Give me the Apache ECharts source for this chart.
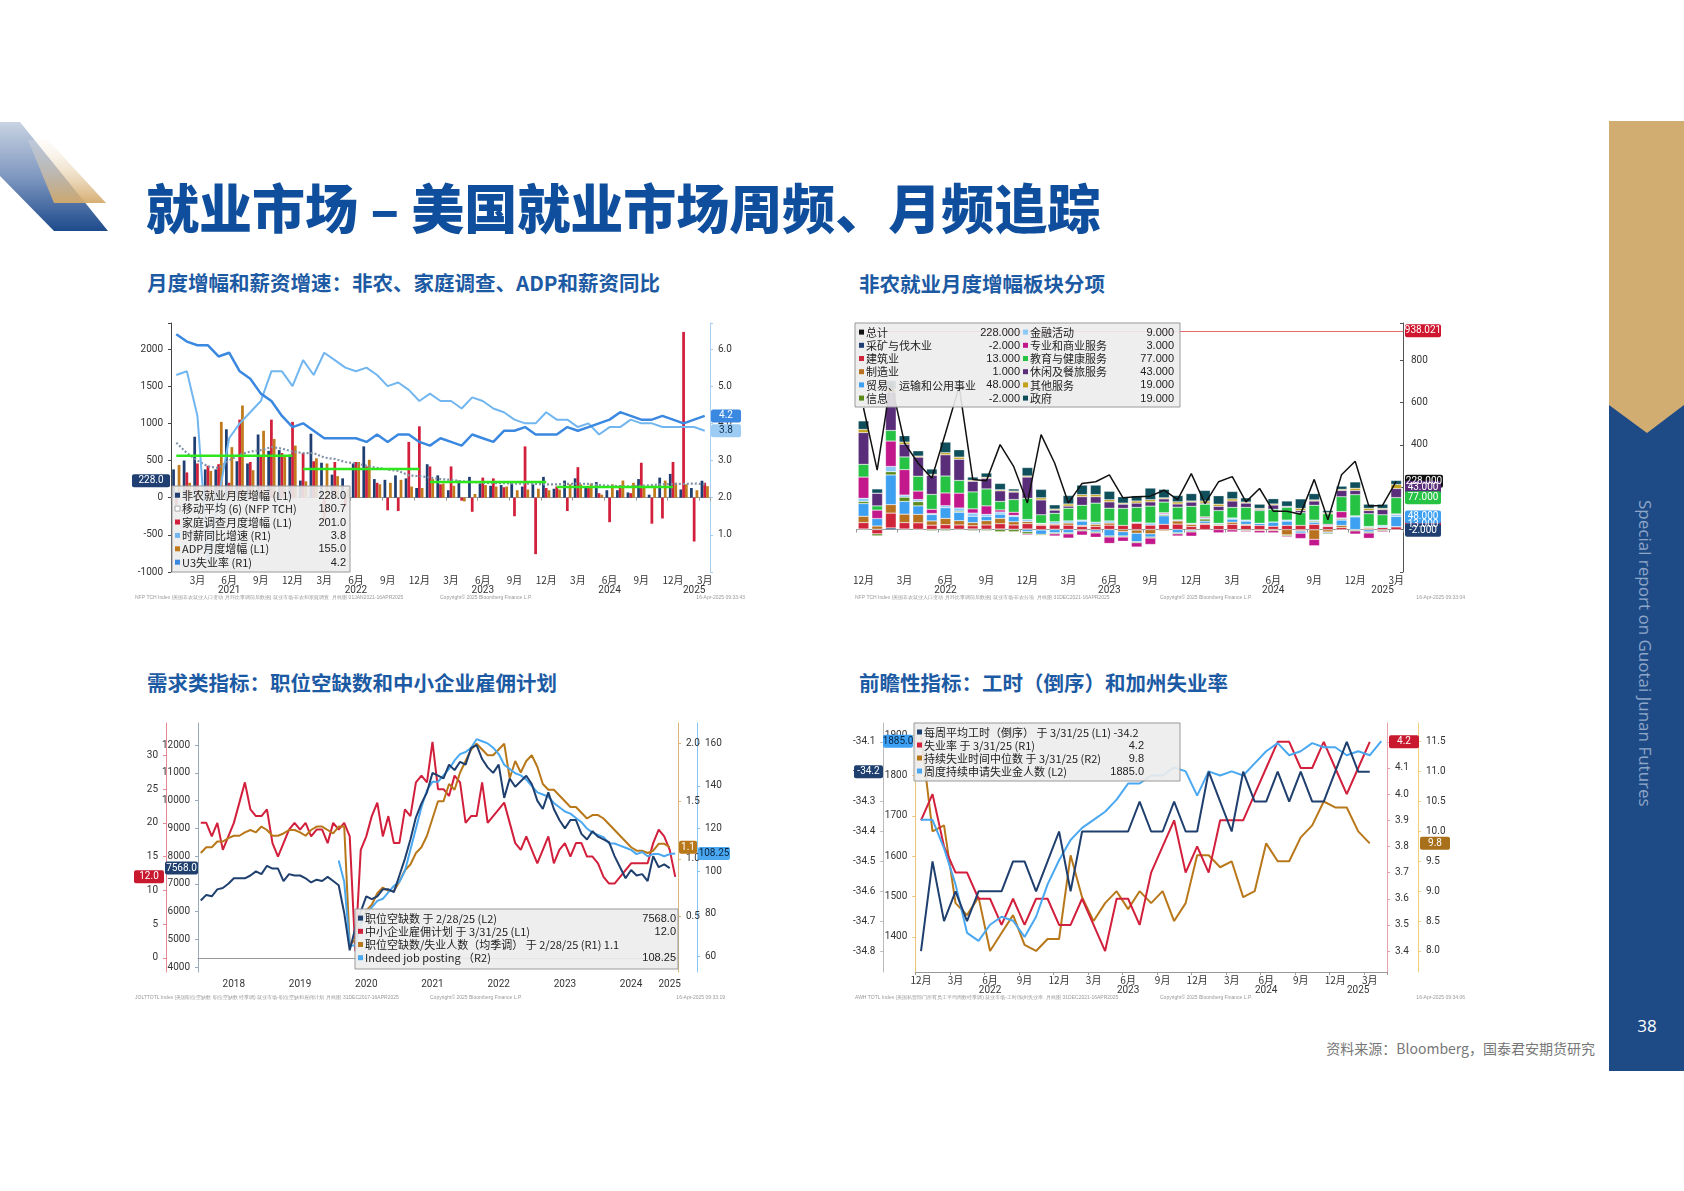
<!DOCTYPE html>
<html><head><meta charset="utf-8">
<script src="https://cdn.jsdelivr.net/npm/echarts@6/dist/echarts.min.js"></script>
<style>
body{margin:0;width:1684px;height:1191px;position:relative;background:#fff;font-family:"Noto Sans CJK SC",sans-serif;overflow:hidden}
.c{position:absolute}
.sub{position:absolute;font-size:20.5px;font-weight:bold;color:#1c5aa3;white-space:nowrap}
</style></head><body>
<svg style="position:absolute;left:0;top:0" width="220" height="260">
<defs>
<linearGradient id="gb" x1="0" y1="0" x2="0" y2="1"><stop offset="0" stop-color="#c9d3e2"/><stop offset="0.5" stop-color="#7f98c0"/><stop offset="1" stop-color="#1e4a8c"/></linearGradient>
<linearGradient id="gg" x1="0" y1="0" x2="0" y2="1"><stop offset="0" stop-color="#f7efe2" stop-opacity="0.2"/><stop offset="1" stop-color="#d4aa6a"/></linearGradient>
</defs>
<polygon points="0,122 20,122 108,231 54,231 0,176" fill="url(#gb)"/>
<polygon points="28,140 48,140 106,203 54,203" fill="url(#gg)" opacity="0.95"/>
</svg>
<div style="position:absolute;left:146px;top:168px;font-size:53px;font-weight:900;color:#0e4e9c;white-space:nowrap">就业市场 – 美国就业市场周频、月频追踪</div>
<div class="sub" style="left:147px;top:267px">月度增幅和薪资增速：非农、家庭调查、ADP和薪资同比</div>
<div class="sub" style="left:859px;top:268px">非农就业月度增幅板块分项</div>
<div class="sub" style="left:147px;top:667px">需求类指标：职位空缺数和中小企业雇佣计划</div>
<div class="sub" style="left:859px;top:667px">前瞻性指标：工时（倒序）和加州失业率</div>
<svg style="position:absolute;left:1609px;top:121px" width="75" height="950">
<polygon points="0,0 75,0 75,950 0,950" fill="#1e4a85"/>
<polygon points="0,0 75,0 75,284 38,312 0,284" fill="#d2ad72"/>
</svg>
<div style="position:absolute;left:1634px;top:500px;writing-mode:vertical-rl;font-size:17px;color:#8ea6c8;font-family:'Open Sans',sans-serif;white-space:nowrap">Special report on Guotai Junan Futures</div>
<div style="position:absolute;left:1630px;top:1014px;width:34px;text-align:center;font-size:17px;color:#fff;font-family:'Open Sans'">38</div>
<div style="position:absolute;right:89px;top:1038px;font-size:14px;color:#777">资料来源：Bloomberg，国泰君安期货研究</div>

<div id="c1" class="c" style="left:130px;top:310px;width:620px;height:300px"></div>
<div id="c2" class="c" style="left:850px;top:310px;width:620px;height:300px"></div>
<div id="c3" class="c" style="left:130px;top:710px;width:600px;height:300px"></div>
<div id="c4" class="c" style="left:850px;top:710px;width:620px;height:300px"></div>
<script>
// ---------- chart 1 data (Jan 2021 - Mar 2025) ----------
const c1Start=[2021,1], c1Len=51;
const nfp=[380,500,820,380,380,920,490,460,850,630,640,580, 230,860,470,310,260,460,690,250,240,300,260,130, 450,300,100,230,280,190,160,170,200,150,180,280, 120,230,260,130,210,100,100,70,250,40,270,320, 110,130,228];
const household=[-100,340,460,430,450,200,1050,480,550,1050,600,1020, 600,490,-300,480,-120,480,420,200,-170,-180,750,960, 420,180,420,-40,-190,270,260,140,-250,690,-760,130, 150,-180,410,150,60,-330,170,60,470,-350,-280,480, 2230,-590,201];
const adp=[440,200,120,360,1020,680,1240,370,900,790,560,700, 220,530,460,290,120,480,510,180,200,240,150,130, 250,190,160,-50,50,170,150,150,100,110,120,100, 110,180,180,190,40,180,230,200,140,160,230,200, 180,100,155];
const ma6=[740,600,500,420,400,500,580,620,640,680,660,620, 600,600,540,520,480,460,430,400,380,360,300,290, 270,250,240,220,210,200,195,195,190,190,185,180, 180,185,190,185,170,160,155,150,160,170,180,185, 185,190,181];
const wageYoY=[5.3,5.4,4.2,0.3,2.0,3.6,4.0,4.3,4.6,5.4,5.4,5.0, 5.7,5.3,5.9,5.7,5.5,5.4,5.5,5.3,5.0,5.1,4.9,4.6, 4.8,4.6,4.6,4.4,4.7,4.6,4.4,4.3,4.1,4.0,4.0,4.3, 4.1,4.1,3.9,4.0,3.7,3.9,3.9,4.1,4.0,4.0,3.9,3.9, 3.9,3.9,3.8];
const u3=[6.4,6.2,6.1,6.1,5.8,5.9,5.4,5.2,4.8,4.6,4.2,3.9, 4.0,3.8,3.6,3.6,3.6,3.6,3.5,3.7,3.5,3.7,3.7,3.5, 3.4,3.6,3.5,3.4,3.7,3.6,3.5,3.8,3.8,3.9,3.7,3.7, 3.7,3.9,3.8,3.9,4.0,4.1,4.3,4.2,4.1,4.1,4.2,4.1, 4.0,4.1,4.2];
const yearAvgYears=[2021,2022,2023,2024], yearAvg=[565,385,210,145];

// ---------- chart 2 data (Dec 2021 - Mar 2025) ----------
const c2Start=[2021,12], c2Len=40;
const total=[574,281,700,408,313,242,455,676,237,231,401,297,126,448,313,126,218,226,258,150,155,158,186,142,264,123,226,250,131,194,87,87,73,237,47,259,323,111,114,228];
const mining=[3,2,8,3,2,1,3,2,3,2,3,2,3,-2,2,1,-1,-1,1,0,-2,1,-1,1,-1,0,0,-1,0,0,1,0,-2,-1,-1,0,-1,-1,-1,-2];
const construction=[30,-20,70,30,30,20,20,20,15,20,25,20,25,20,20,20,15,15,20,20,30,20,25,25,15,25,20,25,20,20,15,20,20,25,15,10,0,5,10,13];
const manufacturing=[30,15,40,40,40,20,30,20,15,20,25,15,10,5,5,10,5,10,10,-10,-15,-20,-5,15,10,5,0,10,5,-5,-5,-25,-5,-45,-10,10,0,5,0,1];
const trade=[60,35,140,60,40,30,50,40,30,20,20,25,-10,-20,-15,-15,20,-10,-30,-20,-40,-15,40,-15,-5,10,0,15,15,10,20,20,-10,10,-5,25,60,-10,5,48];
const info=[10,-10,15,20,20,-5,-5,5,-5,-5,-10,-10,-10,-5,-5,-5,-5,-5,-5,-5,-5,-5,5,-5,-5,10,5,0,-5,0,0,-5,0,5,-5,5,-5,-5,-5,-2];
const finance=[15,0,25,10,10,5,10,15,15,10,10,5,10,5,10,10,5,10,10,0,5,10,5,5,5,5,5,5,5,0,0,5,0,5,5,5,5,5,5,9];
const profBiz=[100,40,120,120,40,20,60,70,20,40,10,15,-5,0,-10,-20,-20,-20,-30,-20,-20,-30,5,-10,-20,5,-15,-10,-5,-10,-10,-5,-25,-30,5,30,-15,-25,-5,3];
const eduHealth=[60,20,50,60,70,70,80,60,80,80,40,60,100,40,40,60,70,90,60,80,70,80,50,60,80,60,60,50,60,60,60,60,60,70,50,70,100,60,50,77];
const leisure=[150,60,180,60,90,90,100,100,50,50,50,35,100,70,15,10,40,30,30,20,20,20,15,15,20,5,20,30,20,5,20,5,10,20,0,30,20,15,25,43];
const otherSvc=[15,0,15,10,5,5,10,10,5,5,5,5,5,10,5,10,10,10,10,5,10,10,5,10,5,10,10,10,5,5,5,0,10,5,5,5,10,10,5,19];
const government=[40,20,40,30,25,25,50,35,15,20,30,10,40,40,20,40,45,45,40,30,25,55,40,30,35,50,40,35,20,20,25,25,45,30,10,15,30,20,20,19];
const peakLine=938.021;

// ---------- chart 3 data (Jan 2018 - Mar 2025) ----------
const c3Start=[2018,1], c3Len=87;
const jobOpenings=[6400,6600,6550,6800,6850,7000,7200,7200,7200,7300,7450,7350, 7650,7550,7550,7100,7350,7300,7300,7200,7050,7150,7100,7250, 7100,6950,5950,4600,5400,6000,6550,6450,6550,6800,6800,6700, 7300,7900,8600,9400,9900,10300,11000,10900,10800,11300,11100,11400, 11300,11900,12000,11500,11200,11000,11300,10100,10800,10500,10700,10900, 10600,10000,9700,10300,9700,9300,9000,9300,9300,8800,8600,8900, 8700,8600,8500,8000,7600,7200,7500,7300,7350,7100,8000,7600, 7700,7568,null];
const smeHiring=[20,20,18,20,16,18,20,23,26,22,21,21, 22,17,15,17,19,20,19,20,18,19,19,17, 20,19,20,18,1,16,18,21,23,18,21,17, 17,22,21,26,27,26,32,25,25,24,27,26, 20,21,21,26,20,21,22,23,20,17,16,18, 16,14,16,18,14,16,17,15,17,17,15,15, 14,12,11,11,12,13,14,14,14,14,17,19, 18,16,12];
const vuRatio=[1.05,1.1,1.1,1.15,1.15,1.18,1.2,1.2,1.23,1.25,1.23,1.28, 1.25,1.2,1.2,1.22,1.25,1.25,1.23,1.2,1.25,1.28,1.28,1.25, 1.22,1.28,1.28,0.25,0.3,0.45,0.55,0.6,0.7,0.75,0.72,0.72, 0.8,0.9,0.95,1.05,1.1,1.2,1.35,1.5,1.5,1.65,1.6,1.75, 1.85,1.95,2.0,1.95,1.9,1.9,1.95,2.0,1.7,1.85,1.75,1.85, 1.9,1.8,1.65,1.6,1.6,1.55,1.5,1.45,1.45,1.4,1.35,1.38, 1.38,1.35,1.3,1.25,1.2,1.15,1.1,1.07,1.07,1.05,1.07,1.13, 1.13,1.1,null];
const indeed=[null,null,null,null,null,null,null,null,null,null,null,null, null,null,null,null,null,null,null,null,null,null,null,null, null,105,95,65,65,75,80,83,86,87,90,93, 95,100,110,120,130,138,142,142,145,148,152,155, 156,158,162,161,160,158,155,150,148,146,145,143, 140,137,136,135,132,130,128,127,125,123,120,118, 117,116,113,113,112,111,110,108,109,107,108,108, 107,108,108.25];

// ---------- chart 4 data (Dec 2021 - Apr 2025) ----------
const c4Start=[2021,12], c4Len=41;
const weeklyHours=[-34.8, -34.5,-34.7,-34.6,-34.7,-34.6,-34.6,-34.6,-34.5,-34.5,-34.6,-34.5,-34.4, -34.6,-34.4,-34.4,-34.4,-34.4,-34.4,-34.3,-34.4,-34.4,-34.3,-34.4,-34.4, -34.2,-34.3,-34.4,-34.2,-34.3,-34.3,-34.2,-34.3,-34.2,-34.3,-34.3,-34.2, -34.1,-34.2,-34.2,null];
const unemp=[3.9, 4.0,3.8,3.7,3.7,3.6,3.6,3.5,3.6,3.5,3.6,3.6,3.5, 3.5,3.6,3.5,3.4,3.6,3.6,3.5,3.7,3.8,3.9,3.7,3.8, 3.7,3.9,3.9,3.9,4.0,4.1,4.2,4.2,4.1,4.1,4.2,4.1, 4.0,4.1,4.2,null];
const duration=[11.6, 10.0,10.1,8.8,8.6,8.9,8.0,8.3,8.6,8.1,8.0,8.2,8.2, 9.6,8.9,8.5,8.8,9.0,8.7,9.0,8.8,9.0,8.5,8.8,9.6, 9.6,9.4,9.5,8.9,9.0,9.8,9.5,9.5,9.9,10.1,10.5,10.4, 10.4,10.0,9.8,null];
const claims=[1690, 1690,1620,1530,1410,1390,1430,1450,1440,1400,1450,1530,1590, 1640,1670,1690,1710,1740,1780,1780,1800,1800,1820,1810,1750, 1810,1800,1810,1800,1830,1860,1880,1850,1860,1880,1870,1870, 1850,1860,1850,1885];

// ---------- helpers ----------
function months(start,n){const a=[];let y=start[0],m=start[1];for(let i=0;i<n;i++){a.push(y+'-'+String(m).padStart(2,'0'));m++;if(m>12){m=1;y++;}}return a;}
const F='"Noto Sans CJK SC", sans-serif';
const mon=v=>+v.slice(5);
function xAxes(cats,yearLabels,showMonths){
  return [
   {type:'category',data:cats,boundaryGap:true,axisLine:{lineStyle:{color:'#999'}},
    axisTick:{show:showMonths,interval:(i,v)=>[3,6,9,12].includes(mon(v)),length:3,lineStyle:{color:'#999'}},
    axisLabel:{show:showMonths,interval:(i,v)=>[3,6,9,12].includes(mon(v)),formatter:v=>mon(v)+'月',fontSize:10,color:'#333',margin:3,fontFamily:F}},
   {type:'category',data:cats,boundaryGap:true,position:'bottom',axisLine:{show:false},
    axisTick:{interval:(i,v)=>mon(v)===1&&i>0,length:showMonths?24:20,lineStyle:{color:'#bbb'}},
    axisLabel:{interval:(i,v)=>yearLabels.includes(v),formatter:v=>v.slice(0,4),fontSize:10,color:'#333',margin:showMonths?13:7,fontFamily:'Roboto'}}
  ];
}
const ZZ=100;
function tag(x,y,w,text,bg,fg){
  return {type:'group',children:[
   {type:'rect',z:ZZ+5,shape:{x:x,y:y-6.5,width:w,height:13,r:2},style:{fill:bg}},
   {type:'text',z:ZZ+6,style:{text:text,x:x+w/2,y:y,align:'center',verticalAlign:'middle',fill:fg||'#fff',fontSize:10,fontFamily:'Roboto'}}]};
}
function box(x,y,w,h,rows,fs){
  const ch=[{type:'rect',z:ZZ,shape:{x:x,y:y,width:w,height:h},style:{fill:'rgba(236,236,236,0.9)',stroke:'#999',lineWidth:1}}];
  rows.forEach(r=>{
    const ry=y+3+r.row*r.rh+r.rh/2;
    ch.push({type:'rect',z:ZZ+1,shape:{x:r.x,y:ry-3,width:5,height:5},style:r.hollow?{fill:'#fff',stroke:'#aaa'}:{fill:r.c}});
    ch.push({type:'text',z:ZZ+1,style:{text:r.name,x:r.x+7,y:ry,verticalAlign:'middle',fill:'#222',fontSize:fs,fontFamily:F}});
    ch.push({type:'text',z:ZZ+1,style:{text:r.val,x:r.vx,y:ry,align:'right',verticalAlign:'middle',fill:'#222',fontSize:fs,fontFamily:'Liberation Sans'}});
  });
  return {type:'group',children:ch};
}
function foot(l,m,r,w){
  return [{type:'text',left:5,bottom:10,style:{text:l,fontSize:5,fill:'#999'}},
          {type:'text',left:w*0.5,bottom:10,style:{text:m,fontSize:5,fill:'#999'}},
          {type:'text',right:5,bottom:10,style:{text:r,fontSize:5,fill:'#999'}}];
}
const yl=()=>({fontSize:10,color:'#333',fontFamily:'Roboto'});
const G={top:13,bottom:38};

// ---------- chart 1 ----------
(function(){
 const cats=months(c1Start,c1Len);
 const ch=echarts.init(document.getElementById('c1'));
 const greens=yearAvgYears.map((yr,k)=>({type:'line',symbol:'none',z:5,lineStyle:{color:'#2ee61c',width:2.5},
   data:cats.map((c,i)=>(+c.slice(0,4)===yr)?yearAvg[k]:null)}));
 ch.setOption({animation:false,
  grid:{left:41,right:40,...G},
  xAxis:xAxes(cats,['2021-06','2022-06','2023-06','2024-06','2025-02'],true),
  yAxis:[{type:'value',min:-1000,max:2350,interval:500,splitLine:{show:false},axisLine:{show:true,lineStyle:{color:'#444'}},axisTick:{show:true,length:3},
          axisLabel:{...yl(),formatter:v=>v%500?'':v}},
         {type:'value',min:0,max:6.7,interval:1,position:'right',splitLine:{show:false},axisLine:{show:true,lineStyle:{color:'#a9d0f2'}},axisTick:{show:true,length:3,lineStyle:{color:'#a9d0f2'}},
          axisLabel:{...yl(),formatter:v=>(v%1||v===0)?'':v.toFixed(1)}}],
  series:[
   {type:'bar',data:nfp,itemStyle:{color:'#1f3f73'},barGap:'0%',barCategoryGap:'22%'},
   {type:'bar',data:household,itemStyle:{color:'#d21f3c'}},
   {type:'bar',data:adp,itemStyle:{color:'#c07a1c'}},
   {type:'line',data:ma6,symbol:'none',lineStyle:{color:'#8191a8',width:2.2,type:[2,2]}},
   ...greens,
   {type:'line',data:wageYoY,yAxisIndex:1,symbol:'none',lineStyle:{color:'#72b6f0',width:2}},
   {type:'line',data:u3,yAxisIndex:1,symbol:'none',lineStyle:{color:'#3a88e0',width:2.5}}
  ]});
 const rh=13.4;
 const rows=[['非农就业月度增幅 (L1)','228.0','#1f3f73'],['移动平均 (6) (NFP TCH)','180.7','#fff',1],['家庭调查月度增幅 (L1)','201.0','#d21f3c'],
   ['时薪同比增速 (R1)','3.8','#72b6f0'],['ADP月度增幅 (L1)','155.0','#c07a1c'],['U3失业率 (R1)','4.2','#3a88e0']]
   .map((r,i)=>({row:i,rh:rh,x:45,vx:216,name:r[0],val:r[1],c:r[2],hollow:r[3]}));
 const py=(a,v)=>ch.convertToPixel({yAxisIndex:a},v);
 ch.setOption({graphic:[box(42,176,178,86,rows,11),
   tag(2,py(0,228),38,'228.0','#1f3f73'),
   tag(581,py(1,4.2),30,'4.2','#3a88e0','#fff'),
   tag(581,py(1,3.8),30,'3.8','#9ccbf3','#103050'),
   ...foot('NFP TCH Index (美国非农就业人口变动 月环比季调前后数据) 就业市场-非农和家庭调查  月线图 01JAN2021-16APR2025','Copyright© 2025 Bloomberg Finance L.P.','16-Apr-2025 09:33:43',620)]});
})();

// ---------- chart 2 ----------
(function(){
 const cats=months(c2Start,c2Len);
 const ch=echarts.init(document.getElementById('c2'));
 const sect=[['采矿与伐木业',mining,'#1f3f73'],['建筑业',construction,'#d0243a'],['制造业',manufacturing,'#b8711e'],['贸易、运输和公用事业',trade,'#3da0f0'],
   ['信息',info,'#5a8a1a'],['金融活动',finance,'#8ccaf7'],['专业和商业服务',profBiz,'#c2188b'],['教育与健康服务',eduHealth,'#25c244'],
   ['休闲及餐旅服务',leisure,'#5a2d7a'],['其他服务',otherSvc,'#c1a21a'],['政府',government,'#0f4f5c']];
 ch.setOption({animation:false,
  grid:{left:5,right:67,...G},
  xAxis:xAxes(cats,['2022-06','2023-06','2024-06','2025-02'],true),
  yAxis:[{type:'value',min:-200,max:975,interval:200,position:'right',splitLine:{show:false},axisLine:{show:true,lineStyle:{color:'#555'}},axisTick:{show:true,length:3,inside:true},
    axisLabel:{...yl(),formatter:v=>[400,600,800].includes(v)?v:''}}],
  series:[...sect.map(s=>({type:'bar',name:s[0],data:s[1],stack:'a',barCategoryGap:'22%',itemStyle:{color:s[2],borderColor:'rgba(255,255,255,0.5)',borderWidth:0.5}})),
   {type:'line',data:total,symbol:'none',z:10,lineStyle:{color:'#111',width:1.5},
    markLine:{silent:true,symbol:'none',label:{show:false},lineStyle:{color:'#e26a6a',width:1,type:'solid'},data:[{yAxis:peakLine}]}}]
 });
 const rh=13.2;
 const L=[['总计','228.000','#111'],['采矿与伐木业','-2.000','#1f3f73'],['建筑业','13.000','#d0243a'],['制造业','1.000','#b8711e'],['贸易、运输和公用事业','48.000','#3da0f0'],['信息','-2.000','#5a8a1a']];
 const R=[['金融活动','9.000','#8ccaf7'],['专业和商业服务','3.000','#c2188b'],['教育与健康服务','77.000','#25c244'],['休闲及餐旅服务','43.000','#5a2d7a'],['其他服务','19.000','#c1a21a'],['政府','19.000','#0f4f5c']];
 const rows=[...L.map((r,i)=>({row:i,rh:rh,x:9,vx:170,name:r[0],val:r[1],c:r[2]})),...R.map((r,i)=>({row:i,rh:rh,x:173,vx:324,name:r[0],val:r[1],c:r[2]}))];
 const py=v=>ch.convertToPixel({yAxisIndex:0},v);
 ch.setOption({graphic:[box(5,13,325,84,rows,11),
   tag(555,py(peakLine),36,'938.021','#d0152f'),
   tag(555,py(228),38,'228.000','#111'),
   tag(555,py(200),36,'43.000','#5a2d7a'),
   tag(555,py(150),36,'77.000','#25c244'),
   tag(555,py(25),36,'13.000','#d0243a'),
   tag(555,py(60),36,'48.000','#3da0f0'),
   tag(555,py(-3),36,'-2.000','#1f3f73'),
   ...foot('NFP TCH Index (美国非农就业人口变动 月环比季调前后数据) 就业市场-非农分项  月线图 31DEC2021-16APR2025','Copyright© 2025 Bloomberg Finance L.P.','16-Apr-2025 09:33:04',620)]});
})();

// ---------- chart 3 ----------
(function(){
 const cats=months(c3Start,c3Len);
 const ch=echarts.init(document.getElementById('c3'));
 const ax=(o)=>Object.assign({type:'value',splitLine:{show:false},axisTick:{show:true,length:3},axisLabel:{...yl(),showMinLabel:false,showMaxLabel:false,formatter:v=>String(v)}},o);
 ch.setOption({animation:false,
  grid:{left:68,right:52,...G},
  xAxis:xAxes(cats,['2018-07','2019-07','2020-07','2021-07','2022-07','2023-07','2024-07','2025-02'],false),
  yAxis:[ax({min:3820,max:12800,splitNumber:9,position:'left',axisLine:{show:true,lineStyle:{color:'#9ab'}}}),
         ax({min:-2.1,max:34.8,splitNumber:7,position:'left',offset:32,axisLine:{show:true,lineStyle:{color:'#e58a95'}}}),
         ax({min:0.016,max:2.18,splitNumber:4,position:'right',axisLine:{show:true,lineStyle:{color:'#dcb676'}},axisLabel:{...yl(),showMinLabel:false,showMaxLabel:false,formatter:v=>v.toFixed(1)}}),
         ax({min:52.6,max:169.6,splitNumber:5,position:'right',offset:19,axisLine:{show:true,lineStyle:{color:'#86c4f2'}}})],
  series:[
   {type:'line',data:smeHiring,yAxisIndex:1,symbol:'none',lineStyle:{color:'#d21f3c',width:2}},
   {type:'line',data:vuRatio,yAxisIndex:2,symbol:'none',lineStyle:{color:'#b8781a',width:2}},
   {type:'line',data:indeed,yAxisIndex:3,symbol:'none',lineStyle:{color:'#4aa8f0',width:2}},
   {type:'line',data:jobOpenings,yAxisIndex:0,symbol:'none',lineStyle:{color:'#1f3f6e',width:2}}
  ]});
 const rh=13.2;
 const rows=[['职位空缺数 于 2/28/25 (L2)','7568.0','#1f3f6e'],['中小企业雇佣计划 于 3/31/25 (L1)','12.0','#d21f3c'],
  ['职位空缺数/失业人数（均季调） 于 2/28/25 (R1) 1.1','','#b8781a'],['Indeed job posting （R2)','108.25','#4aa8f0']]
  .map((r,i)=>({row:i,rh:rh,x:228,vx:546,name:r[0],val:r[1],c:r[2]}));
 const py=(a,v)=>ch.convertToPixel({yAxisIndex:a},v);
 ch.setOption({graphic:[box(225,199,323,60,rows,11),
   tag(4,py(1,12),30,'12.0','#c8192f'),
   tag(35,py(0,7568),33,'7568.0','#1f3f6e'),
   tag(549,py(2,1.1),18,'1.1','#b8781a'),
   tag(568,py(3,108.25),32,'108.25','#4aa8f0','#0a2540'),
   ...foot('JOLTTOTL Index (美国职位空缺数 职位空缺数 经季调) 就业市场-职位空缺和雇佣计划  月线图 31DEC2017-16APR2025','Copyright© 2025 Bloomberg Finance L.P.','16-Apr-2025 09:33:19',600)]});
})();

// ---------- chart 4 ----------
(function(){
 const cats=months(c4Start,c4Len);
 const ch=echarts.init(document.getElementById('c4'));
 const ax=(o)=>Object.assign({type:'value',splitLine:{show:false},axisTick:{show:true,length:3},axisLabel:{...yl(),showMinLabel:false,showMaxLabel:false,formatter:v=>String(v)}},o);
 ch.setOption({animation:false,
  grid:{left:63,right:83,...G},
  xAxis:xAxes(cats,['2022-06','2023-06','2024-06','2025-02'],true),
  yAxis:[ax({min:-34.87,max:-34.037,splitNumber:8,position:'left',offset:32,axisLine:{show:true,lineStyle:{color:'#bbb'}},axisLabel:{...yl(),showMinLabel:false,showMaxLabel:false,formatter:v=>v.toFixed(1)}}),
         ax({min:1313,max:1930,splitNumber:6,position:'left',axisLine:{show:true,lineStyle:{color:'#eac27a'}}}),
         ax({min:3.32,max:4.272,splitNumber:9,position:'right',axisLine:{show:true,lineStyle:{color:'#eaa0aa'}},axisLabel:{...yl(),showMinLabel:false,showMaxLabel:false,formatter:v=>v.toFixed(1)}}),
         ax({min:7.648,max:11.813,splitNumber:8,position:'right',offset:31,axisLine:{show:true,lineStyle:{color:'#f2d07a'}},axisLabel:{...yl(),showMinLabel:false,showMaxLabel:false,formatter:v=>v.toFixed(1)}})],
  series:[
   {type:'line',data:duration,yAxisIndex:3,symbol:'none',lineStyle:{color:'#b8781a',width:2}},
   {type:'line',data:unemp,yAxisIndex:2,symbol:'none',lineStyle:{color:'#d21f3c',width:2}},
   {type:'line',data:claims,yAxisIndex:1,symbol:'none',lineStyle:{color:'#4aa8f0',width:2}},
   {type:'line',data:weeklyHours,yAxisIndex:0,symbol:'none',lineStyle:{color:'#1f3f6e',width:2}}
  ]});
 const rh=13;
 const rows=[['每周平均工时（倒序） 于 3/31/25 (L1) -34.2','','#1f3f6e'],['失业率 于 3/31/25 (R1)','4.2','#d21f3c'],
  ['持续失业时间中位数 于 3/31/25 (R2)','9.8','#b8781a'],['周度持续申请失业金人数 (L2)','1885.0','#4aa8f0']]
  .map((r,i)=>({row:i,rh:rh,x:67,vx:294,name:r[0],val:r[1],c:r[2]}));
 const py=(a,v)=>ch.convertToPixel({yAxisIndex:a},v);
 ch.setOption({graphic:[box(64,13,266,58,rows,11),
   tag(4,py(0,-34.2),29,'-34.2','#1f3f6e'),
   tag(33,py(1,1885),30,'1885.0','#3ca0f5','#0a2540'),
   tag(539,py(2,4.2),30,'4.2','#c8192f'),
   tag(570,py(3,9.8),30,'9.8','#a8701a'),
   ...foot('AWH TOTL Index (美国私营部门所有员工平均周数经季调) 就业市场-工时/加州失业率  月线图 31DEC2021-16APR2025','Copyright© 2025 Bloomberg Finance L.P.','16-Apr-2025 09:34:06',620)]});
})();
</script>
</body></html>
